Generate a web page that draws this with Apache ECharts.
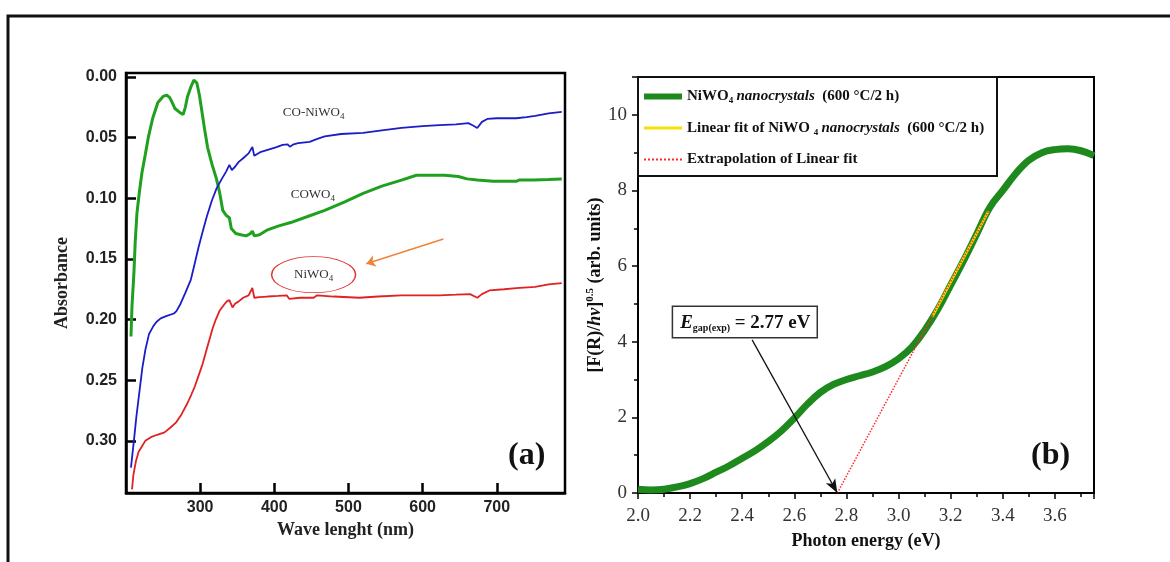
<!DOCTYPE html>
<html>
<head>
<meta charset="utf-8">
<script src="https://cdn.jsdelivr.net/npm/echarts@6/dist/echarts.min.js"></script>
<style>
  html, body { margin: 0; padding: 0; background: #fff; }
  #chart { width: 1170px; height: 562px; }
</style>
</head>
<body>
<div id="chart"></div>
<script>
// ---- panel (a): absorbance spectra ----
const coWO4Wl = [206.7, 208, 210.8, 212.5, 214.8, 218, 221.5, 226, 230, 236, 243, 250, 255, 259, 263, 266, 272, 277, 280, 283, 287, 291.5, 293, 295.6, 299, 302, 306, 310, 316, 322, 326.5, 330.5, 335, 339.4, 342, 348, 354.8, 362, 368, 370.4, 373, 380, 391, 405, 422, 445, 468, 495, 519.8, 545, 571.5, 591.6, 611.8, 630, 648, 660, 673.7, 695.3, 710, 726.2, 730, 750, 770, 787.6];
const coWO4Abs = [0.214, 0.19, 0.16, 0.135, 0.112, 0.095, 0.079, 0.064, 0.050, 0.034, 0.021, 0.016, 0.015, 0.017, 0.022, 0.026, 0.029, 0.031, 0.025, 0.016, 0.009, 0.0025, 0.002, 0.005, 0.015, 0.027, 0.043, 0.058, 0.072, 0.084, 0.096, 0.110, 0.114, 0.116, 0.125, 0.129, 0.130, 0.131, 0.129, 0.127, 0.131, 0.130, 0.126, 0.123, 0.120, 0.115, 0.110, 0.103, 0.096, 0.090, 0.085, 0.081, 0.081, 0.081, 0.082, 0.084, 0.085, 0.086, 0.086, 0.086, 0.085, 0.085, 0.0845, 0.084];

const coNiWO4Wl = [206.7, 210.8, 214, 218.4, 222, 226.1, 231, 236.3, 241, 246.7, 255, 264.6, 268, 272.7, 280, 287.5, 293, 298, 303.6, 309, 315.7, 322, 329.2, 335, 339.4, 342.7, 347, 352, 358, 365.3, 370.4, 373, 381, 391, 402, 411.3, 418, 421, 426, 432.2, 447.6, 458, 468, 490, 519.8, 545, 571.5, 600, 622.6, 645, 661.6, 668, 673.7, 680, 687.2, 700, 726.2, 740, 751.8, 770, 787.6];
const coNiWO4Abs = [0.322, 0.299, 0.28, 0.258, 0.24, 0.225, 0.212, 0.206, 0.202, 0.199, 0.197, 0.195, 0.193, 0.188, 0.178, 0.167, 0.153, 0.140, 0.127, 0.115, 0.102, 0.092, 0.084, 0.078, 0.0725, 0.0767, 0.074, 0.070, 0.067, 0.063, 0.0577, 0.065, 0.062, 0.060, 0.058, 0.056, 0.0555, 0.0575, 0.0555, 0.0545, 0.0535, 0.051, 0.049, 0.047, 0.046, 0.044, 0.042, 0.0405, 0.0396, 0.039, 0.038, 0.040, 0.042, 0.037, 0.0346, 0.034, 0.034, 0.033, 0.032, 0.030, 0.0288];

const niWO4Wl = [208.1, 210, 213.3, 217, 221, 226, 233.6, 242, 252, 260, 267.3, 275, 282.8, 288, 292.9, 298, 303.6, 309, 313.7, 317, 321.1, 326, 331.9, 336, 339.4, 343.6, 347, 352, 358, 365.3, 370.4, 373, 380, 391, 405, 416.7, 420.3, 435, 453, 457.8, 480, 514.5, 540, 571.5, 600, 622.6, 645, 664, 673.7, 680, 690, 710, 726.2, 751.8, 770, 787.6];
const niWO4Abs = [0.340, 0.328, 0.317, 0.309, 0.305, 0.300, 0.297, 0.295, 0.293, 0.289, 0.285, 0.278, 0.269, 0.262, 0.255, 0.246, 0.236, 0.224, 0.214, 0.207, 0.200, 0.193, 0.188, 0.185, 0.184, 0.190, 0.187, 0.185, 0.182, 0.180, 0.174, 0.182, 0.1815, 0.181, 0.1805, 0.180, 0.183, 0.182, 0.182, 0.180, 0.181, 0.182, 0.181, 0.180, 0.180, 0.180, 0.1795, 0.179, 0.182, 0.179, 0.176, 0.175, 0.174, 0.173, 0.171, 0.170];

const wlTicks = [300, 400, 500, 600, 700];
const absTicks = [0, 0.05, 0.1, 0.15, 0.2, 0.25, 0.3];

// ---- panel (b): Tauc plot ----
const energy = [2.0, 2.05, 2.1, 2.15, 2.2, 2.25, 2.3, 2.35, 2.4, 2.45, 2.5, 2.55, 2.6, 2.65, 2.7, 2.75, 2.8, 2.85, 2.9, 2.95, 3.0, 3.05, 3.1, 3.15, 3.2, 3.25, 3.3, 3.35, 3.4, 3.45, 3.5, 3.55, 3.6, 3.65, 3.7, 3.75];
const taucValues = [0.10, 0.08, 0.10, 0.16, 0.25, 0.38, 0.55, 0.72, 0.92, 1.12, 1.36, 1.64, 1.98, 2.35, 2.66, 2.87, 3.00, 3.10, 3.20, 3.34, 3.55, 3.85, 4.30, 4.85, 5.50, 6.15, 6.85, 7.55, 8.00, 8.45, 8.80, 9.00, 9.08, 9.10, 9.05, 8.92];
const fitEnergy = [3.13, 3.345];
const fitValues = [4.67, 7.45];
const extrapEnergy = [2.765, 3.345];
const extrapValues = [0, 7.45];
const gapEnergy = 2.765;

const zip = (xs, ys) => xs.map((x, i) => [x, ys[i]]);

const serif = '"Liberation Serif", "Times New Roman", serif';
const sans = '"Liberation Sans", Arial, sans-serif';

const chart = echarts.init(document.getElementById('chart'), null, { renderer: 'canvas' });

const subRich = {
  n: { fontFamily: serif, fontSize: 13, color: '#333' },
  s: { fontFamily: serif, fontSize: 9, color: '#333', padding: [7, 0, 0, 0] }
};

const legendRich = {
  b: { fontFamily: serif, fontWeight: 'bold', fontSize: 15, color: '#111' },
  i: { fontFamily: serif, fontWeight: 'bold', fontStyle: 'italic', fontSize: 15, color: '#111' },
  s: { fontFamily: serif, fontWeight: 'bold', fontSize: 9, color: '#111', padding: [9, 0, 0, 0] }
};

const legendText = {
  'NiWO4 nanocrystals': '{b|NiWO}{s|4} {i|nanocrystals}{b|  (600 °C/2 h)}',
  'Linear fit': '{b|Linear fit of NiWO }{s|4} {i|nanocrystals}{b|  (600 °C/2 h)}',
  'Extrapolation': '{b|Extrapolation of Linear fit}'
};

const option = {
  animation: false,
  backgroundColor: '#fff',
  grid: [
    { left: 126, top: 73, width: 439, height: 420, show: true, borderColor: '#000', borderWidth: 2.5, backgroundColor: 'transparent' },
    { left: 638, top: 77, width: 456, height: 416, show: true, borderColor: '#000', borderWidth: 2, backgroundColor: 'transparent' }
  ],
  xAxis: [
    {
      gridIndex: 0, type: 'value', min: 200, max: 792, position: 'bottom',
      name: 'Wave lenght (nm)', nameLocation: 'middle', nameGap: 27,
      nameTextStyle: { fontFamily: serif, fontWeight: 'bold', fontSize: 18, color: '#222' },
      axisLine: { onZero: false, lineStyle: { color: '#000', width: 2.5 } },
      axisTick: { inside: true, length: 10, customValues: wlTicks, lineStyle: { color: '#000', width: 2.5 } },
      axisLabel: { customValues: wlTicks, margin: 7, fontFamily: sans, fontWeight: 'bold', fontSize: 16, color: '#222' },
      splitLine: { show: false }
    },
    {
      gridIndex: 1, type: 'value', min: 2.0, max: 3.75, interval: 0.2,
      name: 'Photon energy (eV)', nameLocation: 'middle', nameGap: 39,
      nameTextStyle: { fontFamily: serif, fontWeight: 'bold', fontSize: 18, color: '#111' },
      axisLine: { onZero: false, lineStyle: { color: '#000', width: 2 } },
      axisTick: { inside: false, length: 6, lineStyle: { color: '#000', width: 1.5 } },
      minorTick: { show: true, splitNumber: 2, length: 4, lineStyle: { color: '#000', width: 1.5 } },
      axisLabel: { margin: 14, fontFamily: serif, fontSize: 19, color: '#333', showMaxLabel: false, formatter: v => v.toFixed(1) },
      splitLine: { show: false }
    }
  ],
  yAxis: [
    {
      gridIndex: 0, type: 'value', inverse: true, min: -0.0033, max: 0.343,
      name: 'Absorbance', nameLocation: 'middle', nameGap: 55,
      nameTextStyle: { fontFamily: serif, fontWeight: 'bold', fontSize: 18, color: '#222' },
      axisLine: { onZero: false, lineStyle: { color: '#000', width: 2.5 } },
      axisTick: { inside: true, length: 10, customValues: absTicks, lineStyle: { color: '#000', width: 2.5 } },
      axisLabel: { customValues: absTicks, margin: 9, fontFamily: sans, fontWeight: 'bold', fontSize: 16, color: '#222', formatter: v => v.toFixed(2) },
      splitLine: { show: false }
    },
    {
      gridIndex: 1, type: 'value', min: 0, max: 11, interval: 2,
      name: '{b|[F(R)/}{bi|hν}{b|]}{sup|0.5}{b| (arb. units)}', nameLocation: 'middle', nameGap: 22,
      nameTextStyle: {
        fontFamily: serif, fontWeight: 'bold', fontSize: 18, color: '#111',
        rich: {
          b: { fontFamily: serif, fontWeight: 'bold', fontSize: 18, color: '#111' },
          bi: { fontFamily: serif, fontWeight: 'bold', fontStyle: 'italic', fontSize: 18, color: '#111' },
          sup: { fontFamily: serif, fontWeight: 'bold', fontSize: 11, color: '#111', padding: [0, 0, 10, 0] }
        }
      },
      axisLine: { onZero: false, lineStyle: { color: '#000', width: 2 } },
      axisTick: { inside: false, length: 6, lineStyle: { color: '#000', width: 1.5 } },
      minorTick: { show: true, splitNumber: 2, length: 4, lineStyle: { color: '#000', width: 1.5 } },
      axisLabel: { margin: 11, fontFamily: serif, fontSize: 19, color: '#333', showMaxLabel: false },
      splitLine: { show: false }
    }
  ],
  legend: {
    show: true,
    left: 641, top: 89, orient: 'vertical',
    padding: 0, itemGap: 15, itemWidth: 38, itemHeight: 14,
    itemStyle: { opacity: 0 },
    data: [
      { name: 'NiWO4 nanocrystals', lineStyle: { width: 6 } },
      { name: 'Linear fit', lineStyle: { width: 3 } },
      { name: 'Extrapolation', lineStyle: { width: 2 } }
    ],
    formatter: name => legendText[name],
    textStyle: { rich: legendRich }
  },
  series: [
    {
      name: 'CoWO4', type: 'line', xAxisIndex: 0, yAxisIndex: 0,
      data: zip(coWO4Wl, coWO4Abs), symbol: 'none',
      lineStyle: { color: '#1fa01f', width: 3 }, itemStyle: { color: '#1fa01f' },
      markPoint: {
        silent: true, symbolSize: 0,
        data: [{ coord: [452, 0.0973], label: { show: true, position: 'inside', formatter: '{n|COWO}{s|4}', rich: subRich } }]
      }
    },
    {
      name: 'CO-NiWO4', type: 'line', xAxisIndex: 0, yAxisIndex: 0,
      data: zip(coNiWO4Wl, coNiWO4Abs), symbol: 'none',
      lineStyle: { color: '#1c1cc8', width: 1.8 }, itemStyle: { color: '#1c1cc8' },
      markPoint: {
        silent: true, symbolSize: 0,
        data: [{ coord: [453, 0.0297], label: { show: true, position: 'inside', formatter: '{n|CO-NiWO}{s|4}', rich: subRich } }]
      }
    },
    {
      name: 'NiWO4', type: 'line', xAxisIndex: 0, yAxisIndex: 0,
      data: zip(niWO4Wl, niWO4Abs), symbol: 'none',
      lineStyle: { color: '#e02222', width: 1.8 }, itemStyle: { color: '#e02222' },
      markPoint: {
        silent: true,
        data: [
          {
            coord: [453, 0.163],
            symbol: 'path://M0 50 A50 50 0 1 1 100 50 A50 50 0 1 1 0 50 Z',
            symbolSize: [84, 36],
            itemStyle: { color: 'rgba(0,0,0,0)', borderColor: '#e03333', borderWidth: 1 },
            label: { show: true, position: 'inside', formatter: '{n|NiWO}{s|4}', rich: subRich }
          }
        ]
      },
      markLine: {
        silent: true, symbol: ['none', 'arrow'], symbolSize: 9,
        lineStyle: { color: '#f0823a', width: 1.5, type: 'solid' },
        label: { show: false },
        data: [[{ coord: [628, 0.1335] }, { coord: [524, 0.154] }]]
      }
    },
    {
      name: 'NiWO4 nanocrystals', type: 'line', xAxisIndex: 1, yAxisIndex: 1,
      data: zip(energy, taucValues), symbol: 'none', smooth: 0.4,
      lineStyle: { color: '#1e8a1e', width: 7 }, itemStyle: { color: '#1e8a1e' },
      markPoint: {
        silent: true, symbolSize: 0,
        data: [
          {
            coord: [2.41, 4.52],
            label: {
              show: true, position: 'inside',
              formatter: '{e|E}{s|gap(exp)}{t| = 2.77 eV}',
              backgroundColor: '#fff', borderColor: '#333', borderWidth: 1.5,
              padding: [6, 6, 4, 7],
              rich: {
                e: { fontFamily: serif, fontWeight: 'bold', fontStyle: 'italic', fontSize: 19, color: '#111' },
                s: { fontFamily: serif, fontWeight: 'bold', fontSize: 10, color: '#111', padding: [10, 0, 0, 0] },
                t: { fontFamily: serif, fontWeight: 'bold', fontSize: 19, color: '#111' }
              }
            }
          }
        ]
      },
      markLine: {
        silent: true, symbol: ['none', 'arrow'], symbolSize: [8, 14],
        lineStyle: { color: '#111', width: 1.3, type: 'solid' },
        label: { show: false },
        data: [[{ coord: [2.438, 4.05] }, { coord: [gapEnergy, 0] }]]
      }
    },
    {
      name: 'Linear fit', type: 'line', xAxisIndex: 1, yAxisIndex: 1,
      data: zip(fitEnergy, fitValues), symbol: 'none',
      lineStyle: { color: '#f5e000', width: 2.5 }, itemStyle: { color: '#f5e000' }
    },
    {
      name: 'Extrapolation', type: 'line', xAxisIndex: 1, yAxisIndex: 1,
      data: zip(extrapEnergy, extrapValues), symbol: 'none',
      lineStyle: { color: '#ff2a2a', width: 1.5, type: 'dotted' }, itemStyle: { color: '#ff2a2a' }
    }
  ],
  graphic: [
    { type: 'rect', silent: true, z: -1, shape: { x: 8, y: 16, width: 1300, height: 700 }, style: { fill: 'none', stroke: '#111', lineWidth: 3 } },
    { type: 'rect', silent: true, z: 10, shape: { x: 638, y: 77, width: 359, height: 99 }, style: { fill: 'none', stroke: '#111', lineWidth: 2 } },
    { type: 'text', silent: true, z: 10, left: 508, top: 440, style: { text: '(a)', fontFamily: serif, fontWeight: 'bold', fontSize: 32, fill: '#111' } },
    { type: 'text', silent: true, z: 10, left: 1031, top: 440, style: { text: '(b)', fontFamily: serif, fontWeight: 'bold', fontSize: 32, fill: '#111' } }
  ]
};

chart.setOption(option);
window.addEventListener('resize', () => chart.resize());
</script>
</body>
</html>
